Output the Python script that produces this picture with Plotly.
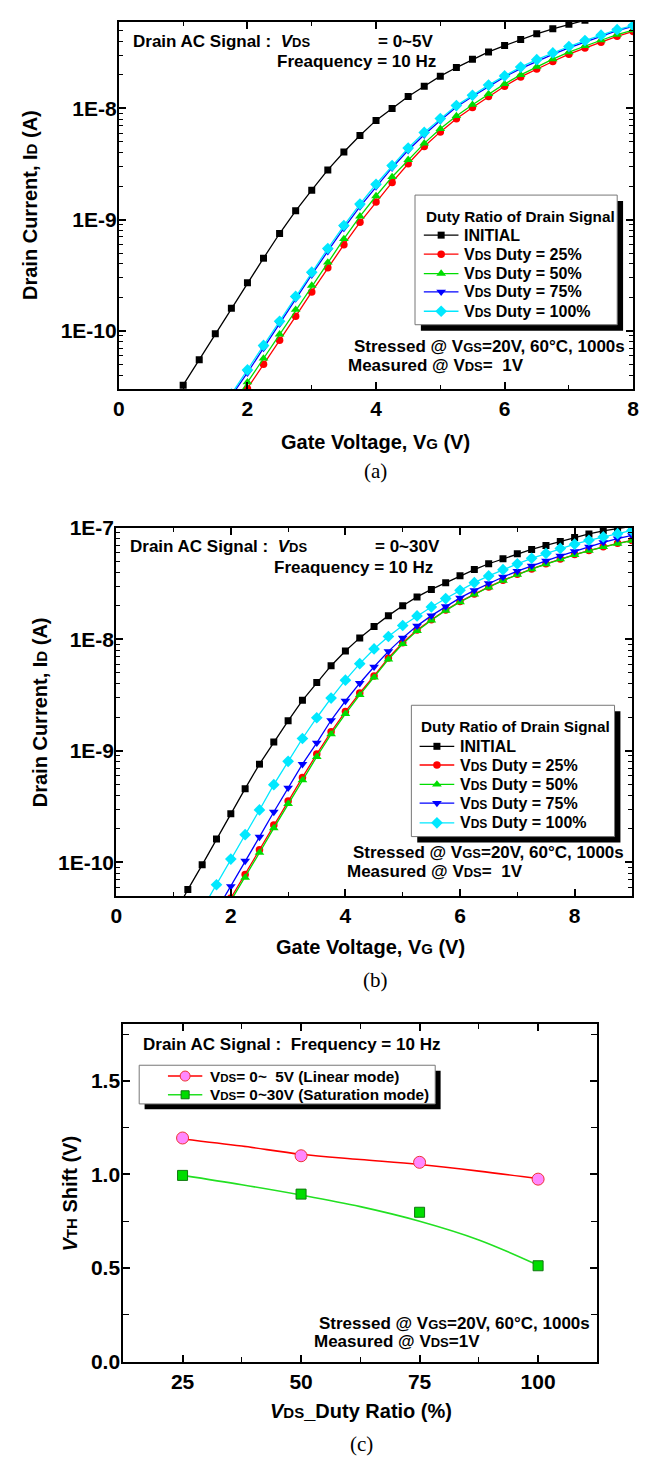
import plotly.graph_objects as go

FIG_W, FIG_H = 649, 1468
SANS = "Liberation Sans, Arial, Helvetica, sans-serif"
SERIF = "Liberation Serif, Times New Roman, serif"

# ---------------- (a) drain AC signal VDS = 0~5 V ----------------
vg_a_init = [1.0, 1.25, 1.5, 1.75, 2.0, 2.25, 2.5, 2.75, 3.0, 3.25, 3.5, 3.75, 4.0,
             4.25, 4.5, 4.75, 5.0, 5.25, 5.5, 5.75, 6.0, 6.25, 6.5, 6.75, 7.0,
             7.25, 7.5, 7.75, 8.0]
id_a_init = [3.25e-11, 5.5e-11, 9.4e-11, 1.6e-10, 2.7e-10, 4.5e-10, 7.5e-10, 1.2e-9,
             1.84e-9, 2.8e-9, 4.05e-9, 5.7e-9, 7.8e-9, 1.0e-8, 1.28e-8, 1.58e-8,
             1.95e-8, 2.33e-8, 2.76e-8, 3.22e-8, 3.67e-8, 4.16e-8, 4.68e-8, 5.19e-8,
             5.72e-8, 6.2e-8, 6.75e-8, 7.3e-8, 7.9e-8]
vg_a_str = [1.75, 2.0, 2.25, 2.5, 2.75, 3.0, 3.25, 3.5, 3.75, 4.0, 4.25, 4.5, 4.75,
            5.0, 5.25, 5.5, 5.75, 6.0, 6.25, 6.5, 6.75, 7.0, 7.25, 7.5, 7.75, 8.0]
id_a_25 = [1.85e-11, 3.02e-11, 5.0e-11, 8.25e-11, 1.35e-10, 2.24e-10, 3.7e-10, 5.95e-10,
           9.45e-10, 1.44e-9, 2.16e-9, 3.18e-9, 4.55e-9, 6.15e-9, 8.08e-9, 1.02e-8,
           1.28e-8, 1.58e-8, 1.92e-8, 2.26e-8, 2.64e-8, 3.07e-8, 3.5e-8, 3.94e-8,
           4.45e-8, 4.92e-8]
id_a_50 = [2.1e-11, 3.45e-11, 5.65e-11, 9.3e-11, 1.55e-10, 2.55e-10, 4.12e-10, 6.7e-10,
           1.07e-9, 1.63e-9, 2.42e-9, 3.45e-9, 4.85e-9, 6.55e-9, 8.55e-9, 1.08e-8,
           1.35e-8, 1.66e-8, 2.0e-8, 2.37e-8, 2.77e-8, 3.2e-8, 3.64e-8, 4.1e-8,
           4.6e-8, 5.05e-8]
id_a_75 = [2.6e-11, 4.2e-11, 7.0e-11, 1.16e-10, 1.95e-10, 3.2e-10, 5.2e-10, 8.4e-10,
           1.31e-9, 1.98e-9, 2.93e-9, 4.2e-9, 5.8e-9, 7.8e-9, 1.03e-8, 1.28e-8,
           1.58e-8, 1.92e-8, 2.28e-8, 2.66e-8, 3.06e-8, 3.5e-8, 3.97e-8, 4.45e-8,
           5.0e-8, 5.45e-8]
id_a_100 = [2.7e-11, 4.45e-11, 7.4e-11, 1.22e-10, 2.04e-10, 3.37e-10, 5.5e-10, 8.85e-10,
            1.38e-9, 2.08e-9, 3.06e-9, 4.4e-9, 6.08e-9, 8.1e-9, 1.06e-8, 1.31e-8,
            1.62e-8, 1.96e-8, 2.35e-8, 2.74e-8, 3.15e-8, 3.6e-8, 4.07e-8, 4.55e-8,
            5.1e-8, 5.55e-8]

# ---------------- (b) drain AC signal VDS = 0~30 V ----------------
vg_b_init = [1.0, 1.25, 1.5, 1.75, 2.0, 2.25, 2.5, 2.75, 3.0, 3.25, 3.5, 3.75, 4.0,
             4.25, 4.5, 4.75, 5.0, 5.25, 5.5, 5.75, 6.0, 6.25, 6.5, 6.75, 7.0,
             7.25, 7.5, 7.75, 8.0, 8.25, 8.5, 8.75, 9.0]
id_b_init = [3.3e-11, 5.7e-11, 9.5e-11, 1.62e-10, 2.73e-10, 4.58e-10, 7.6e-10, 1.2e-9,
             1.86e-9, 2.84e-9, 4.1e-9, 5.8e-9, 7.85e-9, 1.03e-8, 1.3e-8, 1.63e-8,
             2.0e-8, 2.4e-8, 2.8e-8, 3.22e-8, 3.72e-8, 4.22e-8, 4.76e-8, 5.27e-8,
             5.85e-8, 6.4e-8, 6.95e-8, 7.55e-8, 8.2e-8, 8.8e-8, 9.4e-8, 9.85e-8, 1.03e-7]
vg_b_str = [1.75, 2.0, 2.25, 2.5, 2.75, 3.0, 3.25, 3.5, 3.75, 4.0, 4.25, 4.5, 4.75,
            5.0, 5.25, 5.5, 5.75, 6.0, 6.25, 6.5, 6.75, 7.0, 7.25, 7.5, 7.75, 8.0,
            8.25, 8.5, 8.75, 9.0]
id_b_25 = [2.9e-11, 4.8e-11, 7.8e-11, 1.3e-10, 2.16e-10, 3.55e-10, 5.78e-10, 9.35e-10,
           1.48e-9, 2.25e-9, 3.3e-9, 4.7e-9, 6.8e-9, 9.3e-9, 1.21e-8, 1.5e-8, 1.83e-8,
           2.18e-8, 2.55e-8, 2.95e-8, 3.38e-8, 3.83e-8, 4.28e-8, 4.75e-8, 5.25e-8,
           5.75e-8, 6.25e-8, 6.75e-8, 7.25e-8, 7.7e-8]
id_b_50 = [2.75e-11, 4.5e-11, 7.3e-11, 1.22e-10, 2.03e-10, 3.35e-10, 5.45e-10, 8.85e-10,
           1.41e-9, 2.15e-9, 3.17e-9, 4.55e-9, 6.6e-9, 9.1e-9, 1.19e-8, 1.48e-8, 1.81e-8,
           2.16e-8, 2.53e-8, 2.93e-8, 3.36e-8, 3.81e-8, 4.26e-8, 4.73e-8, 5.23e-8,
           5.73e-8, 6.23e-8, 6.73e-8, 7.22e-8, 7.68e-8]
id_b_75 = [3.7e-11, 6.1e-11, 1.03e-10, 1.69e-10, 2.83e-10, 4.66e-10, 7.6e-10, 1.18e-9,
           1.88e-9, 2.8e-9, 4.04e-9, 5.67e-9, 7.8e-9, 1.03e-8, 1.32e-8, 1.63e-8, 1.97e-8,
           2.35e-8, 2.75e-8, 3.18e-8, 3.62e-8, 4.08e-8, 4.56e-8, 5.06e-8, 5.6e-8,
           6.15e-8, 6.75e-8, 7.4e-8, 8.0e-8, 8.56e-8]
vg_b_100 = [1.5, 1.75, 2.0, 2.25, 2.5, 2.75, 3.0, 3.25, 3.5, 3.75, 4.0, 4.25, 4.5,
            4.75, 5.0, 5.25, 5.5, 5.75, 6.0, 6.25, 6.5, 6.75, 7.0, 7.25, 7.5, 7.75,
            8.0, 8.25, 8.5, 8.75, 9.0]
id_b_100 = [3.8e-11, 6.3e-11, 1.07e-10, 1.77e-10, 2.95e-10, 4.97e-10, 8.05e-10, 1.29e-9,
            1.98e-9, 2.97e-9, 4.3e-9, 6.05e-9, 8.2e-9, 1.06e-8, 1.33e-8, 1.62e-8,
            1.95e-8, 2.32e-8, 2.75e-8, 3.22e-8, 3.7e-8, 4.21e-8, 4.75e-8, 5.33e-8,
            5.9e-8, 6.53e-8, 7.13e-8, 7.73e-8, 8.28e-8, 8.85e-8, 9.47e-8]

# ---------------- (c) threshold-voltage shift vs duty ratio ----------------
duty = [25, 50, 75, 100]
vth_linear = [1.195, 1.10, 1.065, 0.975]
vth_saturation = [0.995, 0.895, 0.798, 0.512]
fit_duty = [25, 37.5, 50, 62.5, 75, 87.5, 100]
fit_linear = [1.19, 1.152, 1.108, 1.08, 1.053, 1.018, 0.978]
fit_saturation = [0.995, 0.945, 0.89, 0.828, 0.75, 0.65, 0.515]

log_ticks_a = [1e-10, 1e-9, 1e-8]
log_text_a = ["1E-10", "1E-9", "1E-8"]
log_ticks_b = [1e-10, 1e-9, 1e-8, 1e-7]
log_text_b = ["1E-10", "1E-9", "1E-8", "1E-7"]

BLACK, RED, GREEN, BLUE, CYAN = "#000000", "#ff0000", "#00dd00", "#0000ff", "#00e8ff"

series_style = [
    ("INITIAL", BLACK, "square", 7),
    ("25", RED, "circle", 7.5),
    ("50", GREEN, "triangle-up", 8.5),
    ("75", BLUE, "triangle-down", 8.5),
    ("100", CYAN, "diamond", 9),
]


def fx(p):
    return p / FIG_W


def fy(p):
    return 1 - p / FIG_H


def sub(s, size):
    return f"<span style='font-size:{size}px'>{s}</span>"


fig = go.Figure()


def curve(x, y, color, symbol, size, xa, ya):
    fig.add_trace(go.Scatter(
        x=x, y=y, mode="lines+markers", xaxis=xa, yaxis=ya, showlegend=False,
        line=dict(color=color, width=1.3),
        marker=dict(symbol=symbol, size=size, color=color, line=dict(width=0)),
        hoverinfo="skip"))


panel_a = [(vg_a_init, id_a_init), (vg_a_str, id_a_25), (vg_a_str, id_a_50),
           (vg_a_str, id_a_75), (vg_a_str, id_a_100)]
panel_b = [(vg_b_init, id_b_init), (vg_b_str, id_b_25), (vg_b_str, id_b_50),
           (vg_b_str, id_b_75), (vg_b_100, id_b_100)]

for (xs, ys), (_, c, s, m) in zip(panel_a, series_style):
    curve(xs, ys, c, s, m, "x", "y")
for (xs, ys), (_, c, s, m) in zip(panel_b, series_style):
    curve(xs, ys, c, s, m, "x2", "y2")

# (c) fitted trends and measured points
fig.add_trace(go.Scatter(x=fit_duty, y=fit_linear, mode="lines", line=dict(color=RED, width=1.6, shape="spline"),
                         xaxis="x3", yaxis="y3", showlegend=False, hoverinfo="skip"))
fig.add_trace(go.Scatter(x=fit_duty, y=fit_saturation, mode="lines", line=dict(color="#22e022", width=1.6, shape="spline"),
                         xaxis="x3", yaxis="y3", showlegend=False, hoverinfo="skip"))
fig.add_trace(go.Scatter(x=duty, y=vth_linear, mode="markers", xaxis="x3", yaxis="y3", showlegend=False,
                         marker=dict(symbol="circle", size=12, color="#ff88ff", line=dict(color="#ee3333", width=1)),
                         hoverinfo="skip"))
fig.add_trace(go.Scatter(x=duty, y=vth_saturation, mode="markers", xaxis="x3", yaxis="y3", showlegend=False,
                         marker=dict(symbol="square", size=10, color="#00dd00", line=dict(color="#117711", width=1)),
                         hoverinfo="skip"))

# ---------------- hand-drawn legend keys (pixel overlay axis) ----------------
def key(xl, xr, y, color, symbol, size, lw=1.3, fill=None, edge=None):
    fig.add_trace(go.Scatter(x=[xl, xr], y=[y, y], mode="lines", xaxis="x4", yaxis="y4",
                             line=dict(color=color, width=lw), showlegend=False, hoverinfo="skip"))
    fig.add_trace(go.Scatter(x=[(xl + xr) / 2], y=[y], mode="markers", xaxis="x4", yaxis="y4",
                             marker=dict(symbol=symbol, size=size, color=fill or color,
                                         line=dict(color=edge or color, width=1 if edge else 0)),
                             showlegend=False, hoverinfo="skip"))


def box(x0, y0, x1, y1, off):
    fig.add_shape(type="rect", xref="x4", yref="y4", x0=x0 + off, y0=y0 + off, x1=x1 + off, y1=y1 + off,
                  fillcolor="black", line=dict(width=0), layer="below")
    fig.add_shape(type="rect", xref="x4", yref="y4", x0=x0, y0=y0, x1=x1, y1=y1,
                  fillcolor="white", line=dict(color="#777777", width=1), layer="below")


def note(x, y, text, size=17, anchor="left", family=SANS, bold=True, angle=0):
    fig.add_annotation(x=x, y=y, xref="x4", yref="y4", text=text, showarrow=False,
                       xanchor=anchor, yanchor="middle", textangle=angle,
                       font=dict(family=family, size=size, color="black",
                                 weight="bold" if bold else "normal"))


VDS16 = "V" + sub("DS", 12)
entry_labels = ["INITIAL"] + [f"{VDS16} Duty = {p}%" for p in ("25", "50", "75", "100")]


def duty_legend(bx0, by0, bx1, by1, title_x, title_y, rows, kx0, kx1, tx):
    box(bx0, by0, bx1, by1, 6)
    note(title_x, title_y, "Duty Ratio of Drain Signal", size=15.3)
    for ry, lab, (_, c, s, m) in zip(rows, entry_labels, series_style):
        key(kx0, kx1, ry, c, s, m)
        note(tx, ry, lab, size=16)


duty_legend(416.7, 186, 622.7, 317.7, 425.5, 207.3, [226.7, 246, 265.7, 284.3, 304], 425.7, 461, 465)
duty_legend(413, 704.3, 620, 837.7, 421, 726, [746, 765, 784.7, 803.7, 823.7], 421.4, 456.7, 461)

# (c) legend
box(135.7, 1070, 437.3, 1109.3, 5.5)
key(165, 200, 1081, RED, "circle", 10, lw=1.6, fill="#ff88ff", edge="#ee3333")
key(165, 200, 1100, "#22e022", "square", 8, lw=1.6, fill="#00dd00", edge="#117711")
note(206, 1081, "V" + sub("DS", 11.5) + "= 0~\u00a0 5V (Linear mode)", size=15.3)
note(206, 1100, "V" + sub("DS", 11.5) + "= 0~30V (Saturation mode)", size=15.3)

# ---------------- panel texts ----------------
VDS17 = "<i>V</i>" + sub("DS", 13)
note(127, 29.5, "Drain AC Signal :\u00a0 " + VDS17)
note(376.5, 29.5, "= 0~5V")
note(274.5, 50.5, "Freaquency = 10 Hz")
note(352.7, 340, "Stressed @ V" + sub("GS", 13) + "=20V, 60\u00b0C, 1000s")
note(346.5, 359.3, "Measured @ V" + sub("DS", 13) + "=\u00a0 1V")

note(124.8, 543.3, "Drain AC Signal :\u00a0 " + VDS17)
note(374.4, 543.3, "= 0~30V")
note(271.2, 564, "Freaquency = 10 Hz")
note(351.5, 854.3, "Stressed @ V" + sub("GS", 13) + "=20V, 60\u00b0C, 1000s")
note(345.3, 873.3, "Measured @ V" + sub("DS", 13) + "=\u00a0 1V")

note(137.3, 1049.3, "Drain AC Signal :\u00a0 Frequency = 10 Hz")
note(317.3, 1332, "Stressed @ V" + sub("GS", 13) + "=20V, 60\u00b0C, 1000s")
note(311.3, 1350.7, "Measured @ V" + sub("DS", 13) + "=1V")

# axis titles
note(376, 437, "Gate Voltage, V" + sub("G", 15) + " (V)", size=20, anchor="center")
note(371, 950, "Gate Voltage, V" + sub("G", 15) + " (V)", size=20, anchor="center")
note(24.5, 196, "Drain Current, I" + sub("D", 15) + " (A)", size=20, anchor="center", angle=-90)
note(34, 711, "Drain Current, I" + sub("D", 15) + " (A)", size=20, anchor="center", angle=-90)
note(65.5, 1200, "<i>V</i>" + sub("TH", 15) + " Shift (V)", size=20, anchor="center", angle=-90)
note(362, 1421.7, "<i>V</i>" + sub("DS", 15) + "_Duty Ratio (%)", size=20, anchor="center")

# captions
note(376, 466, "(a)", size=21, anchor="center", family=SERIF, bold=False)
note(376, 983, "(b)", size=21, anchor="center", family=SERIF, bold=False)
note(362, 1455, "(c)", size=21, anchor="center", family=SERIF, bold=False)

# ---------------- axes ----------------
tickfont = dict(family=SANS, size=21, color="black", weight="bold")
frame = dict(showline=True, linecolor="black", linewidth=2, mirror="ticks", ticks="inside",
             ticklen=7, tickwidth=1.5, tickcolor="black", showgrid=False, zeroline=False,
             tickfont=tickfont)
# outward stubs so the decade ticks cross the frame on both sides
stub = dict(ticks="outside", ticklen=4, tickwidth=1.5, tickcolor="black", showticklabels=False,
            showline=False, showgrid=False, zeroline=False, mirror="ticks")

fig.update_layout(
    width=FIG_W, height=FIG_H, margin=dict(l=0, r=0, t=0, b=0),
    paper_bgcolor="white", plot_bgcolor="rgba(0,0,0,0)", showlegend=False,
    xaxis=dict(domain=[fx(115), fx(639)], anchor="y", range=[0, 8], tickvals=[0, 2, 4, 6, 8],
               minor=dict(ticks="inside", ticklen=4, tickwidth=1.2, dtick=1), **frame),
    yaxis=dict(domain=[fy(383), fy(10)], anchor="x", type="log", range=[-10.5229, -7.2218],
               tickvals=log_ticks_a, ticktext=log_text_a, ticklabelstandoff=-4,
               minor=dict(ticks="inside", ticklen=4, tickwidth=1.2, dtick="D1"), **frame),
    yaxis5=dict(overlaying="y", anchor="x", type="log", range=[-10.5229, -7.2218],
                tickvals=log_ticks_a, **stub),
    xaxis2=dict(domain=[fx(112.3), fx(637.7)], anchor="y2", range=[0, 9], tickvals=[0, 2, 4, 6, 8],
                minor=dict(ticks="inside", ticklen=4, tickwidth=1.2, dtick=1), **frame),
    yaxis2=dict(domain=[fy(898), fy(524)], anchor="x2", type="log", range=[-10.301, -7.0],
                tickvals=log_ticks_b, ticktext=log_text_b, ticklabelstandoff=-4,
                minor=dict(ticks="inside", ticklen=4, tickwidth=1.2, dtick="D1"), **frame),
    yaxis6=dict(overlaying="y2", anchor="x2", type="log", range=[-10.301, -7.0],
                tickvals=log_ticks_b, **stub),
    xaxis3=dict(domain=[fx(119.5), fx(602.5)], anchor="y3", range=[12.5, 112.5],
                tickvals=[25, 50, 75, 100],
                minor=dict(ticks="inside", ticklen=5, tickwidth=1.2, tickvals=[37.5, 62.5, 87.5]), **frame),
    yaxis3=dict(domain=[fy(1371), fy(1028)], anchor="x3", range=[0, 1.805],
                tickvals=[0, 0.5, 1.0, 1.5], ticktext=["0.0", "0.5", "1.0", "1.5"], ticklabelstandoff=-3,
                minor=dict(ticks="inside", ticklen=6, tickwidth=1.2, tickvals=[0.25, 0.75, 1.25, 1.75]), **frame),
    xaxis4=dict(domain=[0, 1], anchor="y4", range=[0, FIG_W], visible=False, fixedrange=True),
    yaxis4=dict(domain=[0, 1], anchor="x4", range=[FIG_H, 0], visible=False, fixedrange=True),
)

fig.write_html("out.html")
